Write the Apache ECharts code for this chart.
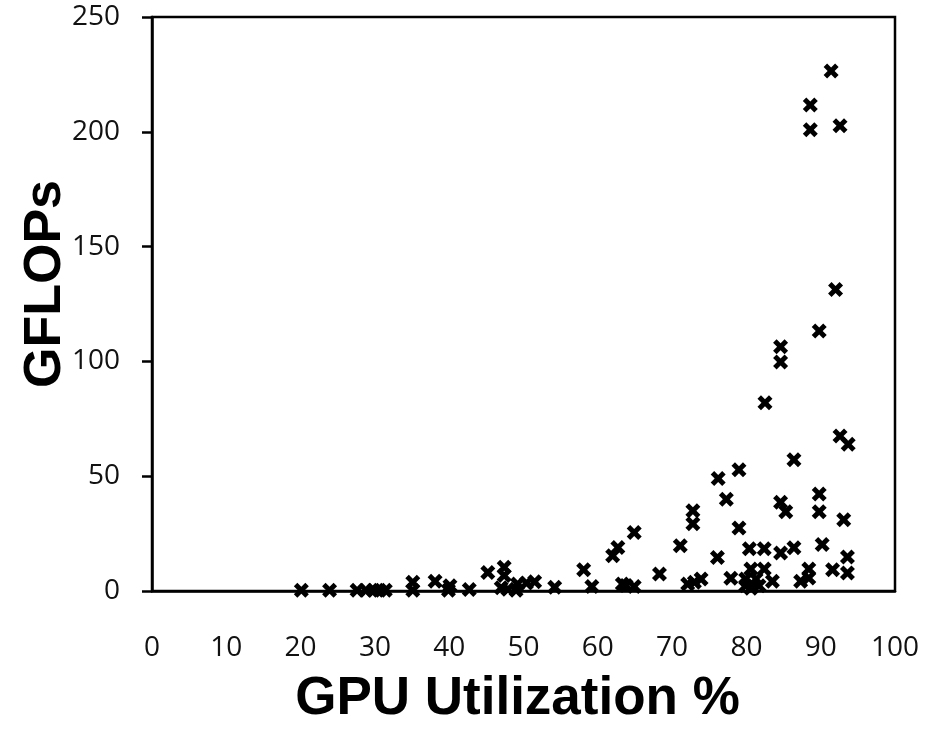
<!DOCTYPE html>
<html>
<head>
<meta charset="utf-8">
<script src="https://cdn.jsdelivr.net/npm/echarts@6/dist/echarts.min.js"></script>
<style>
  html, body { margin: 0; padding: 0; background: #fff; }
  #chart { width: 936px; height: 731px; }
</style>
</head>
<body>
<div id="chart"></div>
<script>
// GPU utilization (%) of each run
var gpuUtil = [
  20.1, 23.9, 27.6, 28.8, 29.8, 30.6, 31.4, 35.1, 35.1, 38.1,
  40.1, 39.9, 42.7, 45.2, 47.4, 47.4, 47.0, 47.9, 49.2, 49.0,
  50.4, 51.5, 54.2, 58.1, 59.2, 62.0, 62.7, 63.3, 63.8, 64.9,
  64.9, 68.3, 71.1, 72.8, 72.8, 72.1, 73.0, 73.9, 76.1, 76.2,
  77.3, 77.9, 79.0, 79.0, 80.4, 82.4, 84.6, 86.4, 90.2, 80.6,
  82.4, 79.9, 79.9, 81.3, 81.7, 80.6, 83.5, 87.3, 88.4, 88.4,
  91.6, 93.6, 93.6, 93.1, 84.6, 85.3, 89.8, 89.8, 86.4, 92.6,
  93.7, 82.5, 84.6, 84.6, 89.8, 92.0, 88.6, 88.6, 91.4, 92.6
];
// GFLOPs achieved by the same runs
var gflops = [
  0.3, 0.3, 0.3, 0.3, 0.3, 0.3, 0.3, 3.8, 0.3, 4.2,
  2.3, 0.3, 0.6, 8.1, 10.3, 6.7, 1.4, 0.8, 3.0, 0.3,
  3.5, 4.0, 1.6, 9.3, 2.0, 15.4, 19.0, 3.0, 2.4, 2.0,
  25.5, 7.4, 19.7, 34.9, 29.3, 3.0, 3.8, 5.2, 14.6, 49.0,
  40.0, 5.6, 52.8, 27.4, 18.4, 18.4, 16.5, 18.8, 20.2, 9.6,
  9.6, 5.2, 2.3, 5.2, 2.3, 1.2, 4.3, 4.2, 9.6, 5.7,
  9.3, 14.8, 7.8, 31.0, 38.6, 34.5, 42.2, 34.5, 57.2, 67.5,
  63.9, 82.0, 106.4, 99.7, 113.2, 131.3, 211.7, 200.9, 226.5, 202.6
];

var points = gpuUtil.map(function (x, i) { return [x, gflops[i]]; });

// bold "x" marker
var crossPath = 'path://M2.8,0 L6,3.2 L9.2,0 L12,2.8 L8.8,6 L12,9.2 L9.2,12 L6,8.8 L2.8,12 L0,9.2 L3.2,6 L0,2.8 Z';

var chart = echarts.init(document.getElementById('chart'));
var option = {
  animation: false,
  backgroundColor: '#fff',
  grid: {
    left: 152, right: 41, top: 17, bottom: 139,
    show: true, borderColor: '#000', borderWidth: 2.5
  },
  xAxis: {
    type: 'value',
    min: 0, max: 100, interval: 10,
    name: 'GPU Utilization %',
    nameLocation: 'middle',
    nameGap: 82,
    nameMoveOverlap: false,
    nameTextStyle: {
      fontFamily: 'Liberation Sans', fontWeight: 'bold', fontSize: 53, color: '#000',
      padding: [0, 12, 0, 0]
    },
    axisLine: { lineStyle: { color: '#000', width: 2.5 } },
    axisTick: { show: false },
    splitLine: { show: false },
    axisLabel: { margin: 43, fontFamily: 'Open Sans', fontSize: 28, color: '#111' }
  },
  yAxis: {
    type: 'value',
    min: 0, max: 250, interval: 50,
    name: 'GFLOPs',
    nameLocation: 'middle',
    nameGap: 80,
    nameMoveOverlap: false,
    nameRotate: 90,
    nameTextStyle: {
      fontFamily: 'Liberation Sans', fontWeight: 'bold', fontSize: 52, color: '#000',
      padding: [0, 0, 0, 40]
    },
    axisLine: { show: true, lineStyle: { color: '#000', width: 2.5 } },
    axisTick: { show: true, length: 10, lineStyle: { color: '#000', width: 2.5 } },
    splitLine: { show: false },
    axisLabel: { margin: 32, fontFamily: 'Open Sans', fontSize: 28, color: '#111' }
  },
  series: [{
    type: 'scatter',
    data: points,
    symbol: crossPath,
    symbolSize: 15,
    itemStyle: { color: '#000', opacity: 1 }
  }]
};
chart.setOption(option);
window.addEventListener('resize', function () {
  chart.resize();
});
</script>
</body>
</html>
